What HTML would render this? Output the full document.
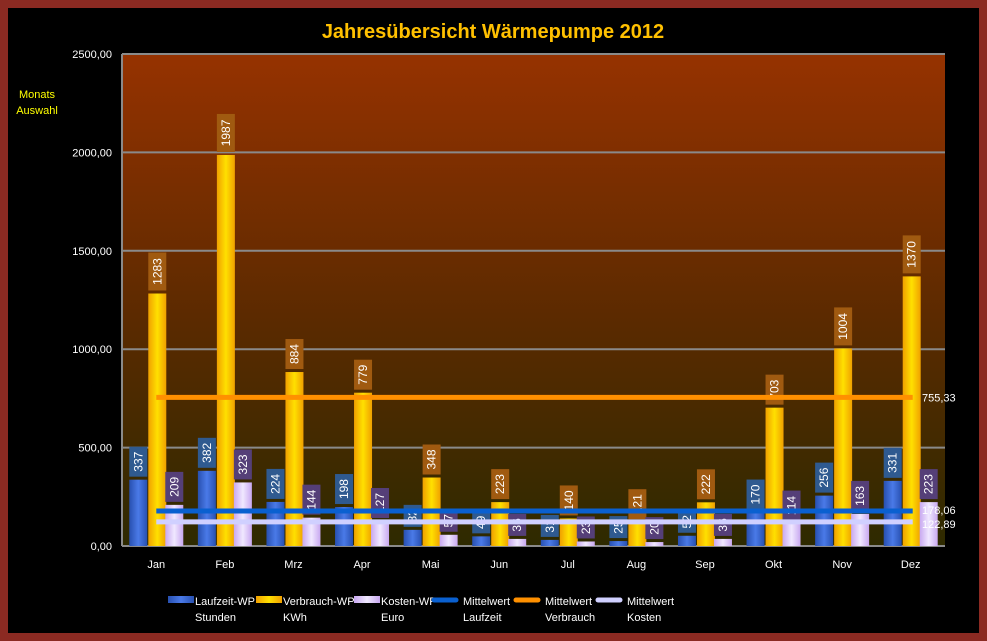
<!DOCTYPE html>
<html><head><meta charset="utf-8"><style>
body{margin:0;background:#000;}
#wrap{position:relative;width:987px;height:641px;background:#000;box-sizing:border-box;border:8px solid #8b2a22;font-family:"Liberation Sans",sans-serif;}
</style></head><body>
<div id="wrap">
<svg id="c" width="971" height="625" viewBox="8 8 971 625" style="position:absolute;left:0;top:0">
<defs>
<linearGradient id="bg" x1="0" y1="0" x2="0" y2="1"><stop offset="0" stop-color="#963200"/><stop offset="0.55" stop-color="#5a2a00"/><stop offset="1" stop-color="#2e2a00"/></linearGradient>
<linearGradient id="gb" x1="0" x2="1"><stop offset="0" stop-color="#2850b0"/><stop offset="0.5" stop-color="#4a7ae8"/><stop offset="1" stop-color="#2850b0"/></linearGradient>
<linearGradient id="go" x1="0" x2="1"><stop offset="0" stop-color="#f0a000"/><stop offset="0.5" stop-color="#ffe000"/><stop offset="1" stop-color="#f0a000"/></linearGradient>
<linearGradient id="gl" x1="0" x2="1"><stop offset="0" stop-color="#c8a8f0"/><stop offset="0.5" stop-color="#f0e8ff"/><stop offset="1" stop-color="#c8a8f0"/></linearGradient>
</defs>
<text x="493" y="38" text-anchor="middle" fill="#ffc000" font-size="20" font-weight="bold">Jahresübersicht Wärmepumpe  2012</text>
<text x="37" y="98" text-anchor="middle" fill="#ffff00" font-size="11">Monats</text>
<text x="37" y="114" text-anchor="middle" fill="#ffff00" font-size="11">Auswahl</text>
<g id="plot"></g>
</svg>
</div>
<script>
const categories=["Jan","Feb","Mrz","Apr","Mai","Jun","Jul","Aug","Sep","Okt","Nov","Dez"];
const laufzeit=[337,382,224,198,82,49,31,25,52,170,256,331];
const verbrauch=[1283,1987,884,779,348,223,140,121,222,703,1004,1370];
const kosten=[209,323,144,127,57,36,23,20,36,114,163,223];
const means=[178.06,755.33,122.89];
const yTicks=[0,500,1000,1500,2000,2500];
const yTickLabels=["0,00","500,00","1000,00","1500,00","2000,00","2500,00"];
const legendLabels=[["Laufzeit-WP","Stunden"],["Verbrauch-WP","KWh"],["Kosten-WP","Euro"],["Mittelwert","Laufzeit"],["Mittelwert","Verbrauch"],["Mittelwert","Kosten"]];
const NS="http://www.w3.org/2000/svg";
const L=122,R=945,T=54,B=546;
const y=v=>B-(v/2500)*(B-T);
const step=(R-L)/categories.length;
const xc=i=>L+step*(i+0.5);
const g=document.getElementById('plot');
function mk(t,a,p){const e=document.createElementNS(NS,t);for(const k in a)e.setAttribute(k,a[k]);(p||g).appendChild(e);return e;}
let e=mk('rect',{x:L,y:T,width:R-L,height:B-T,fill:'url(#bg)'});


yTicks.forEach((v,i)=>{
 let l=mk('line',{x1:L,x2:R,y1:y(v),y2:y(v),stroke:'#8a8a8a','stroke-width':2});
 
 
 let t=mk('text',{x:112,y:y(v)+4,'text-anchor':'end',fill:'#fff','font-size':11});
 t.textContent=yTickLabels[i];
 
 
});
e=mk('line',{x1:L,x2:L,y1:T,y2:B,stroke:'#8a8a8a','stroke-width':2});


const series=[[laufzeit,'url(#gb)','#2f5a90',-27],[verbrauch,'url(#go)','#a05a10',-8],[kosten,'url(#gl)','#553f78',9]];
categories.forEach((c,i)=>{
 series.forEach(([arr,fill,box,off],s)=>{
  const x=xc(i)+off,w=18,v=arr[i];
  let b=mk('rect',{x:x,y:y(v),width:w,height:B-y(v),fill:fill});
  
  
  const s2=String(v),bh=s2.length*8+6;
  let r=mk('rect',{x:x,y:y(v)-bh-3,width:w,height:bh,fill:box});
  
  
  let t=mk('text',{x:0,y:0,fill:'#fff','font-size':12,'text-anchor':'middle',transform:`translate(${x+w/2+4},${y(v)-3-bh/2}) rotate(-90)`});
  t.textContent=s2;
  
  
 });
 let t=mk('text',{x:xc(i),y:568,fill:'#fff','font-size':11,'text-anchor':'middle'});
 t.textContent=c;
 
 
});
const mcol=['#0a60d0','#ff9000','#d0d0ff'];
means.forEach((m,k)=>{
 let l=mk('line',{x1:xc(0),x2:xc(11)+2,y1:y(m),y2:y(m),stroke:mcol[k],'stroke-width':5});
 
 
 let t=mk('text',{x:922,y:y(m)+4+(k==0?-1:k==2?2:0),fill:'#fff','font-size':11});
 t.textContent=m.toFixed(2).replace('.',',');
 
 
});
const lx=[170,258,356,438,520,602];
legendLabels.forEach((lab,k)=>{
 let sw;
 if(k<3) sw=mk('rect',{x:lx[k]-2,y:596,width:26,height:7,fill:series[k][1]});
 else sw=mk('line',{x1:lx[k]-4,x2:lx[k]+18,y1:600,y2:600,stroke:mcol[k-3],'stroke-width':5,'stroke-linecap':'round'});
 
 
 let t=mk('text',{x:lx[k]+25,y:605,fill:'#fff','font-size':11});
 t.textContent=lab[0];
 
 
 let t2=mk('text',{x:lx[k]+25,y:621,fill:'#fff','font-size':11});
 t2.textContent=lab[1];
 
 
});
</script>
</body></html>
